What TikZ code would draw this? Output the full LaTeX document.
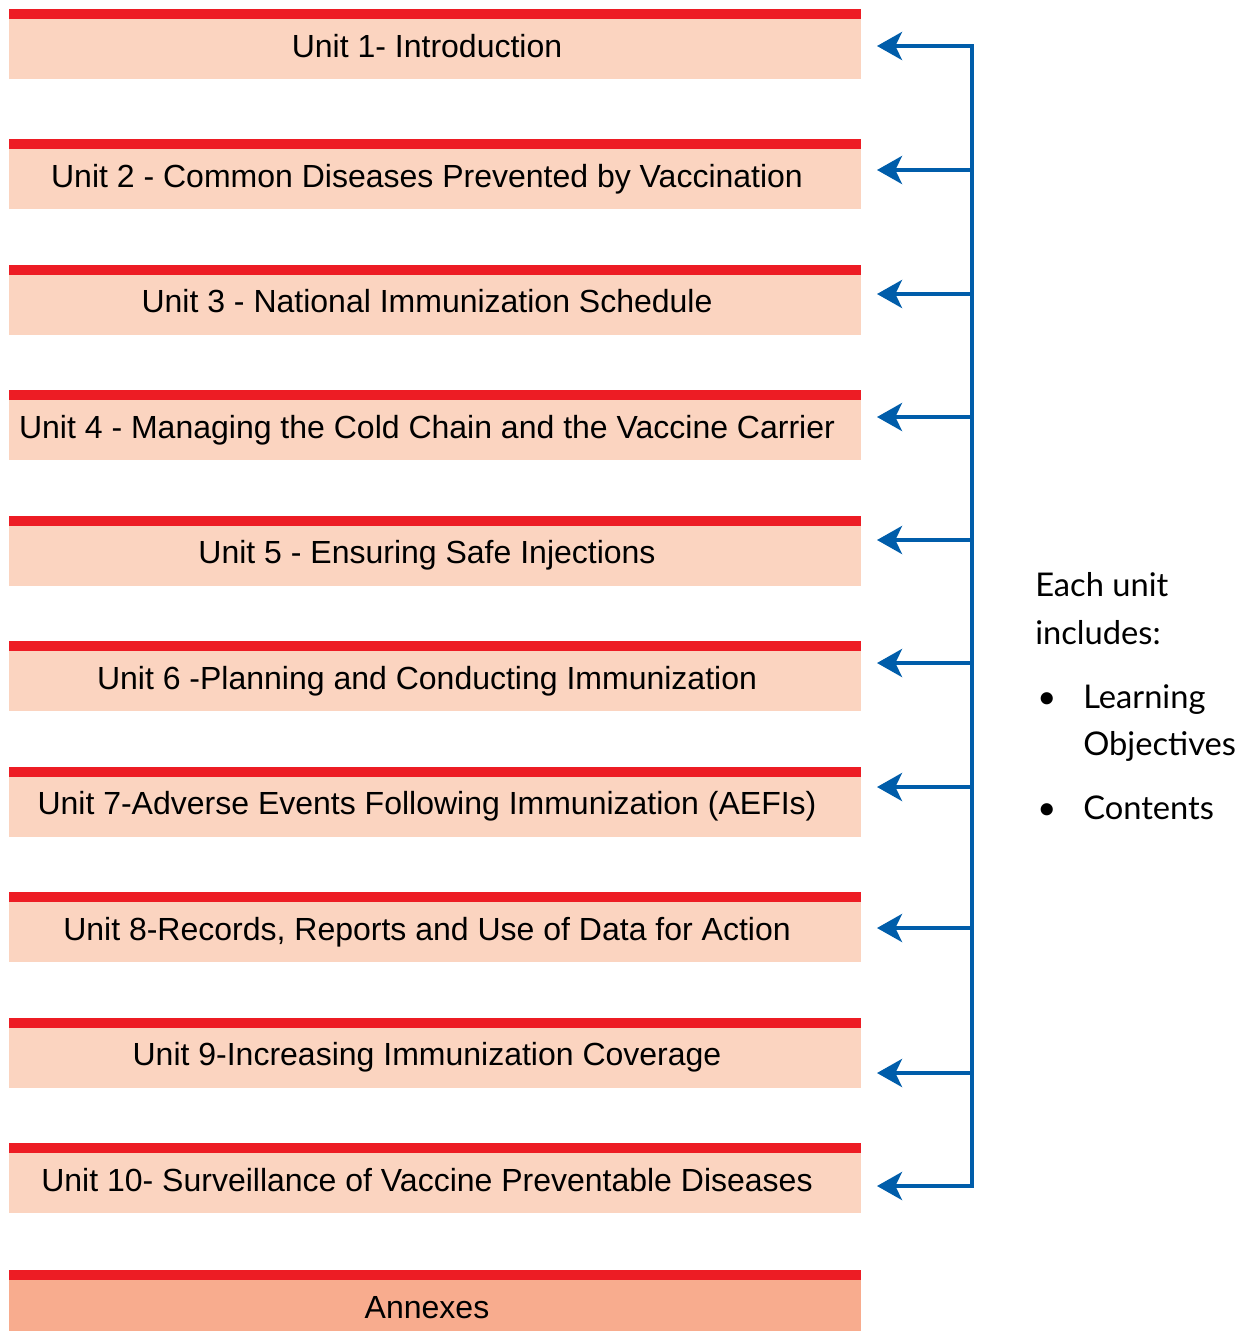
\documentclass[tikz,border=0pt]{standalone}
\usepackage{fontspec}
\setmainfont{Liberation Sans}
\newfontfamily\notefont{Lato}
\usetikzlibrary{arrows.meta, positioning}
\definecolor{unitred}{HTML}{ED1C24}
\definecolor{unitfill}{HTML}{FBD4C0}
\definecolor{annexfill}{HTML}{F8AC8E}
\definecolor{linkblue}{HTML}{005DAA}
\begin{document}
\begin{tikzpicture}[x=0.75pt, y=-0.75pt, node distance=49.125pt,
    >={Stealth[length=18.75pt, width=21pt, inset=5pt]},
    unit/.style={fill=unitfill, minimum width=639pt, minimum height=45pt, inner sep=0pt,
      outer sep=0pt, text height=17.2pt, text depth=5pt, font=\fontsize{24}{28}\selectfont,
      execute at begin node={\hspace*{-12pt}}},
    annex/.style={unit, fill=annexfill},
    link/.style={draw=linkblue, line width=3pt},
    note/.style={anchor=base west, inner sep=0pt, font=\notefont\fontsize{24.5}{28}\selectfont}]
  \useasboundingbox (0,0) rectangle (1251,1331);
  % units
  \node[unit] (u1) at (435,49) {Unit 1- Introduction};
  \node[unit] (u2) [below=52.5pt of u1] {Unit 2 - Common Diseases Prevented by Vaccination};
  \node[unit] (u3) [below=of u2] {Unit 3 - National Immunization Schedule};
  \node[unit] (u4) [below=of u3] {Unit 4 - Managing the Cold Chain and the Vaccine Carrier};
  \node[unit] (u5) [below=of u4] {Unit 5 - Ensuring Safe Injections};
  \node[unit] (u6) [below=of u5] {Unit 6 -Planning and Conducting Immunization};
  \node[unit] (u7) [below=of u6] {Unit 7-Adverse Events Following Immunization (AEFIs)};
  \node[unit] (u8) [below=of u7] {Unit 8-Records, Reports and Use of Data for Action};
  \node[unit] (u9) [below=of u8] {Unit 9-Increasing Immunization Coverage};
  \node[unit] (u10) [below=of u9] {Unit 10- Surveillance of Vaccine Preventable Diseases};
  \node[annex] (ax) [below=50.25pt of u10] {Annexes};
  \foreach \n in {u1,u2,u3,u4,u5,u6,u7,u8,u9,u10,ax}
    \fill[unitred] (\n.north west) rectangle ([yshift=7.5pt]\n.north east);
  % spine and arrows
  \foreach \k/\y in {1/46,2/170,3/294,4/417,5/540,6/663,7/787,8/928,9/1073,10/1186} {
    \coordinate (s\k) at (972,\y);
    \coordinate (t\k) at (877,\y);
  }
  \draw[link, <->] (t1) -- (s1) -- (s10) -- (t10);
  \foreach \k in {2,...,9}
    \draw[link, ->] (s\k) -- (t\k);
  % note
  \node[note] (each) at (1035,596) {Each unit};
  \node[note] (incl) at (1035,644) {includes:};
  \node[note] (b1) at (1037,708) {•};
  \node[note] (learn) at (1083,708) {Learning};
  \node[note] (obj) at (1083,755) {Objectives};
  \node[note] (b2) at (1037,819) {•};
  \node[note] (cont) at (1083,819) {Contents};
\end{tikzpicture}
\end{document}
